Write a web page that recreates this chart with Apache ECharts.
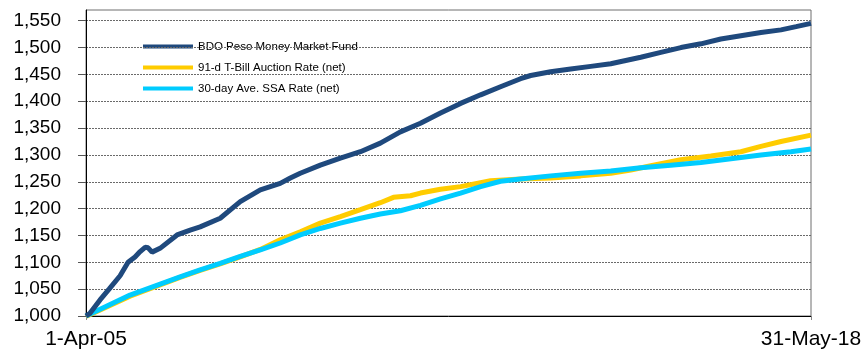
<!DOCTYPE html>
<html>
<head>
<meta charset="utf-8">
<style>
  html, body { margin: 0; padding: 0; background: #fff; }
  #chart { width: 862px; height: 349px; }
</style>
<script src="https://cdn.jsdelivr.net/npm/echarts@6/dist/echarts.min.js"></script>
</head>
<body>
<div id="chart"></div>
<script>
// Growth of 1,000 invested on 1-Apr-05, through 31-May-18
const seriesNames = [
  'BDO Peso Money Market Fund',
  '91-d T-Bill Auction Rate (net)',
  '30-day Ave. SSA Rate (net)'
];

const bdoFund = [
  ['2005-04-01', 1000], ['2005-04-27', 1005], ['2005-07-03', 1030], ['2005-09-01', 1050],
  ['2005-11-13', 1075], ['2006-01-05', 1100], ['2006-02-20', 1110], ['2006-03-26', 1120],
  ['2006-04-28', 1128], ['2006-05-18', 1127], ['2006-06-13', 1119], ['2006-08-05', 1126],
  ['2006-11-26', 1151], ['2007-02-21', 1160], ['2007-04-28', 1166], ['2007-09-08', 1182],
  ['2008-01-19', 1213], ['2008-05-31', 1235], ['2008-10-10', 1247], ['2008-12-16', 1257],
  ['2009-02-20', 1266], ['2009-07-03', 1281], ['2009-11-13', 1294], ['2010-03-26', 1306],
  ['2010-08-05', 1322], ['2010-12-16', 1343], ['2011-04-28', 1359], ['2011-09-08', 1378],
  ['2012-01-19', 1396], ['2012-05-31', 1412], ['2012-10-10', 1427], ['2013-02-20', 1442],
  ['2013-04-28', 1448], ['2013-09-07', 1455], ['2014-01-18', 1460], ['2014-05-31', 1465],
  ['2014-10-11', 1470], ['2015-04-28', 1482], ['2015-09-08', 1491], ['2016-01-19', 1500],
  ['2016-05-31', 1507], ['2016-10-10', 1516], ['2017-02-20', 1522], ['2017-07-03', 1528],
  ['2017-11-13', 1533], ['2018-02-21', 1539], ['2018-05-31', 1545]
];

const tbillRate = [
  ['2005-04-01', 999], ['2006-01-18', 1037], ['2006-12-16', 1072], ['2007-04-28', 1085],
  ['2007-09-08', 1097], ['2008-01-19', 1110], ['2008-05-31', 1124], ['2008-10-10', 1142],
  ['2009-02-20', 1157], ['2009-07-03', 1173], ['2009-11-13', 1185], ['2010-03-26', 1198],
  ['2010-08-05', 1211], ['2010-10-31', 1221], ['2011-02-21', 1224], ['2011-04-28', 1229],
  ['2011-09-08', 1236], ['2012-01-19', 1241], ['2012-08-05', 1252], ['2013-02-20', 1255],
  ['2013-09-07', 1257], ['2014-03-26', 1261], ['2014-10-11', 1266], ['2015-02-21', 1272],
  ['2015-07-04', 1280], ['2016-01-19', 1291], ['2016-08-05', 1298], ['2017-02-20', 1306],
  ['2017-07-03', 1316], ['2017-11-13', 1325], ['2018-05-31', 1337]
];

const ssaRate = [
  ['2005-04-01', 1000], ['2006-01-18', 1039], ['2006-12-16', 1073], ['2007-04-28', 1086],
  ['2007-09-08', 1098], ['2008-01-19', 1111], ['2008-05-31', 1123], ['2008-10-10', 1136],
  ['2009-02-20', 1151], ['2009-07-03', 1163], ['2009-11-13', 1173], ['2010-03-26', 1182],
  ['2010-08-05', 1190], ['2010-12-16', 1196], ['2011-04-28', 1206], ['2011-09-08', 1218],
  ['2012-01-19', 1229], ['2012-05-31', 1241], ['2012-10-10', 1251], ['2013-02-20', 1255],
  ['2013-09-07', 1261], ['2014-03-26', 1266], ['2014-10-11', 1270], ['2015-04-28', 1276],
  ['2015-11-13', 1281], ['2016-05-31', 1286], ['2016-12-16', 1293], ['2017-07-03', 1300],
  ['2018-01-18', 1306], ['2018-05-31', 1311]
];

const yTicks = [1000, 1050, 1100, 1150, 1200, 1250, 1300, 1350, 1400, 1450, 1500, 1550];
const startDay = '2005-04-01';
const endDay = '2018-05-31';
const monthNames = ['Jan','Feb','Mar','Apr','May','Jun','Jul','Aug','Sep','Oct','Nov','Dec'];

// dates become timestamps so the x axis can be a plain value axis
function toTime(s) {
  const p = s.split('-').map(Number);
  return new Date(p[0], p[1] - 1, p[2]).getTime();
}
function fmtDate(v) {
  const d = new Date(v);
  return d.getDate() + '-' + monthNames[d.getMonth()] + '-' + String(d.getFullYear()).slice(2);
}
const asPoints = rows => rows.map(r => [toTime(r[0]), r[1]]);

const startTime = toTime(startDay);
const endTime = toTime(endDay);

const chart = echarts.init(document.getElementById('chart'), null, { renderer: 'canvas' });
const font = 'Liberation Sans, Arial, sans-serif';

chart.setOption({
  animation: false,
  backgroundColor: '#ffffff',
  grid: {
    left: 86, right: 51, top: 10, bottom: 33,
    outerBoundsMode: 'none',
    show: true, borderColor: '#6e6e6e', borderWidth: 1, backgroundColor: 'transparent'
  },
  legend: {
    orient: 'vertical',
    left: 143, top: 40, padding: 0,
    itemWidth: 50, itemHeight: 4, itemGap: 8,
    icon: 'rect',
    z: -1,
    textStyle: { fontFamily: font, fontSize: 11.5, color: '#000', lineHeight: 13 },
    data: seriesNames
  },
  xAxis: {
    type: 'value',
    min: startTime, max: endTime,
    interval: endTime - startTime,
    axisLine: { show: true, lineStyle: { color: '#000', width: 1 } },
    axisTick: { show: true, length: 4, lineStyle: { color: '#888' } },
    axisLabel: {
      formatter: fmtDate,
      fontFamily: font, fontSize: 21, color: '#000', margin: 13,
      showMinLabel: true, showMaxLabel: true
    },
    splitLine: { show: false }
  },
  yAxis: {
    type: 'value',
    min: 1000, max: 1570,
    axisLine: { show: true, lineStyle: { color: '#000', width: 1 } },
    axisTick: { show: true, length: 8, customValues: yTicks, lineStyle: { color: '#555' } },
    axisLabel: {
      customValues: yTicks,
      formatter: v => v.toLocaleString('en-US'),
      fontFamily: font, fontSize: 19, color: '#000', margin: 25
    },
    splitLine: { show: true, lineStyle: { color: '#6a6a6a', width: 1, type: [2, 1] } }
  },
  series: [
    {
      name: seriesNames[0], type: 'line', data: asPoints(bdoFund), showSymbol: false, symbol: 'none',
      lineStyle: { color: '#1F497D', width: 5 }, itemStyle: { color: '#1F497D' }, z: 4
    },
    {
      name: seriesNames[1], type: 'line', data: asPoints(tbillRate), showSymbol: false, symbol: 'none',
      lineStyle: { color: '#FFCC00', width: 5 }, itemStyle: { color: '#FFCC00' }, z: 2
    },
    {
      name: seriesNames[2], type: 'line', data: asPoints(ssaRate), showSymbol: false, symbol: 'none',
      lineStyle: { color: '#00CCFF', width: 5 }, itemStyle: { color: '#00CCFF' }, z: 3
    }
  ]
});
</script>
</body>
</html>
